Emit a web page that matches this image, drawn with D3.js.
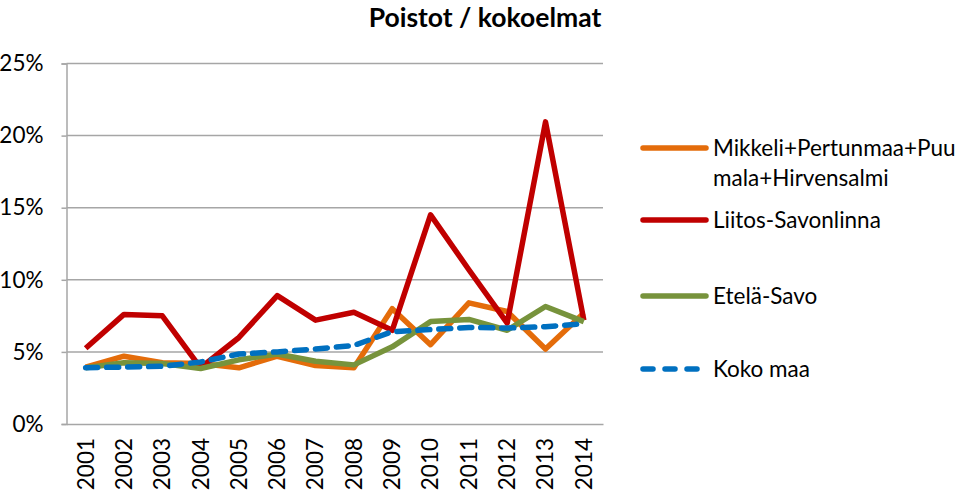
<!DOCTYPE html>
<html><head><meta charset="utf-8">
<script src="https://cdn.jsdelivr.net/npm/d3@7"></script>
<style>body{margin:0;background:#fff;} text{font-family:Lato,"Open Sans",sans-serif;}</style>
</head><body>
<svg id="c" width="960" height="492"></svg>
<script>
const years = ["2001","2002","2003","2004","2005","2006","2007","2008","2009","2010","2011","2012","2013","2014"];
const mikkeli = [3.95,4.7,4.25,4.2,3.9,4.7,4.05,3.9,8.0,5.5,8.4,7.8,5.2,7.7];
const liitos = [5.25,7.6,7.5,3.9,6.0,8.9,7.2,7.75,6.5,14.5,10.7,7.0,20.95,7.2];
const etelaSavo = [3.9,4.25,4.2,3.85,4.45,4.85,4.35,4.1,5.35,7.1,7.25,6.5,8.15,7.1];
const kokoMaa = [3.9,3.95,4.0,4.3,4.85,5.0,5.2,5.45,6.4,6.55,6.7,6.65,6.75,6.95];
const yTicks = [0,5,10,15,20,25];
const seriesNames = [["Mikkeli+Pertunmaa+Puu","mala+Hirvensalmi"],["Liitos-Savonlinna"],["Etelä-Savo"],["Koko maa"]];

const svg = d3.select("#c");
const x = d3.scaleBand().domain(years).range([66.5,603]);
const y = d3.scaleLinear().domain([0,25]).range([424,63.5]);

// gridlines
svg.append("g").selectAll("line").data(yTicks.filter(d=>d>0)).join("line")
  .attr("x1",66.5).attr("x2",603).attr("y1",d=>y(d)).attr("y2",d=>y(d))
  .attr("stroke","#a6a6a6").attr("stroke-width",1.5);

// y axis
const yAxis = svg.append("g").attr("transform","translate(66.5,0)")
  .call(d3.axisLeft(y).tickValues(yTicks).tickFormat(d=>d+"%").tickSize(5).tickPadding(18));
yAxis.select(".domain").attr("stroke","#a6a6a6").attr("stroke-width",1.5);
yAxis.selectAll(".tick line").attr("stroke","#a6a6a6").attr("stroke-width",1.5);
yAxis.selectAll("text").attr("font-size",22.5).attr("fill","#000").style("font-family","Lato");

// x axis
const xAxis = svg.append("g").attr("transform","translate(0,424)")
  .call(d3.axisBottom(x).tickSize(0).tickPadding(0));
xAxis.select(".domain").attr("stroke","#a6a6a6").attr("stroke-width",1.5);
xAxis.selectAll(".tick text").attr("font-size",22.5).attr("fill","#000").style("font-family","Lato")
  .attr("transform","rotate(-90)").attr("text-anchor","end").attr("dx","-14").attr("dy","0.35em").attr("y",0).attr("x",0);

const line = d3.line().x((d,i)=>x(years[i])+x.bandwidth()/2).y(d=>y(d));
const series = [
  {name:seriesNames[0], data:mikkeli, color:"#e46c0a", dash:null},
  {name:seriesNames[1], data:liitos, color:"#c00000", dash:null},
  {name:seriesNames[2], data:etelaSavo, color:"#77933c", dash:null},
  {name:seriesNames[3], data:kokoMaa, color:"#0070c0", dash:"12,9"}
];
svg.append("g").selectAll("path").data(series).join("path")
  .attr("d",d=>line(d.data)).attr("fill","none").attr("stroke",d=>d.color)
  .attr("stroke-width",5.5).attr("stroke-linejoin","round").attr("stroke-linecap",d=>d.dash?"round":"butt")
  .attr("stroke-dasharray",d=>d.dash);

// title
svg.append("text").attr("x",485).attr("y",27).attr("text-anchor","middle")
  .attr("font-size",26.5).attr("font-weight","bold").text("Poistot / kokoelmat");

// legend
const legY = [148,220,296,369];
const lg = svg.append("g");
series.forEach((s,i)=>{
  lg.append("line").attr("x1",643).attr("x2",706).attr("y1",legY[i]).attr("y2",legY[i])
    .attr("stroke",s.color).attr("stroke-width",5.5).attr("stroke-linecap","round")
    .attr("stroke-dasharray",s.dash?"10,12":null);
  const t = lg.append("text").attr("x",713).attr("y",legY[i]+8).attr("font-size",22.5);
  s.name.forEach((p,j)=>t.append("tspan").attr("x",713).attr("dy",j?30:0).text(p));
});
</script>
</body></html>
